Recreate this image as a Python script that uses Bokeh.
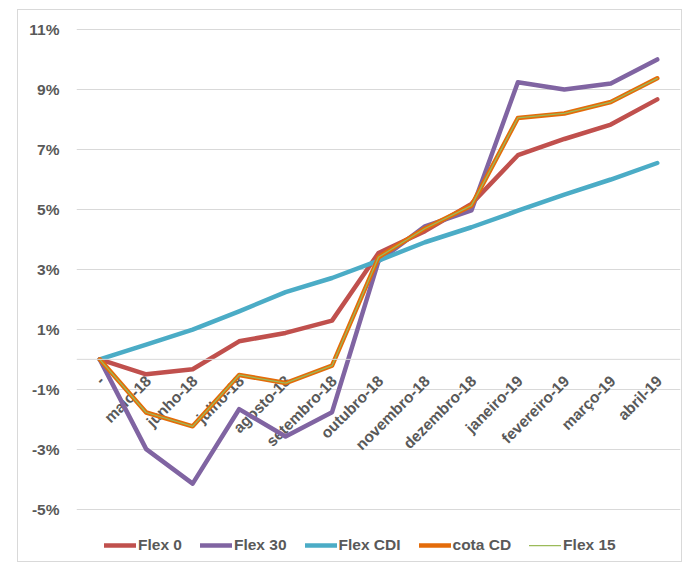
import numpy as np
from bokeh.plotting import figure
from bokeh.models import FixedTicker, PrintfTickFormatter, Span, Legend, LegendItem, Range1d
from bokeh.core.properties import value
from bokeh.embed import file_html
from bokeh.resources import INLINE

categories = ["-", "maio-18", "junho-18", "julho-18", "agosto-18", "setembro-18",
              "outubro-18", "novembro-18", "dezembro-18", "janeiro-19",
              "fevereiro-19", "março-19", "abril-19"]
flex_0 = [0, -0.50, -0.33, 0.60, 0.88, 1.29, 3.54, 4.27, 5.18, 6.80, 7.34, 7.82, 8.66]
flex_30 = [0, -2.99, -4.14, -1.66, -2.57, -1.76, 3.27, 4.43, 4.96, 9.23, 8.99, 9.19, 9.99]
flex_cdi = [0, 0.49, 0.99, 1.60, 2.24, 2.71, 3.29, 3.90, 4.40, 4.95, 5.49, 5.99, 6.54]
cota_cd = [0, -1.77, -2.23, -0.52, -0.79, -0.21, 3.40, 4.36, 5.12, 8.04, 8.19, 8.57, 9.36]
flex_15 = [0, -1.77, -2.23, -0.52, -0.79, -0.21, 3.40, 4.36, 5.12, 8.04, 8.19, 8.57, 9.36]
y_ticks = [-5, -3, -1, 1, 3, 5, 7, 9, 11]

FONT = "Liberation Sans"
GRAY = "#595959"
GRID = "#D9D9D9"

xs = list(range(len(categories)))

p = figure(width=665, height=553, output_backend="svg", toolbar_location=None,
           x_range=Range1d(-0.5, len(categories) - 0.5),
           y_range=Range1d(-6.8, 11.02),
           x_axis_location=None,
           min_border_left=58, min_border_top=18, min_border_right=3, min_border_bottom=0)
p.styles = {"margin-left": "17px", "margin-top": "9px", "border": "1px solid #D9D9D9"}
p.outline_line_color = None
p.background_fill_color = "white"
p.border_fill_color = "white"

p.xgrid.visible = False
p.yaxis.ticker = FixedTicker(ticks=y_ticks)
p.yaxis.formatter = PrintfTickFormatter(format="%d%%")
p.yaxis.axis_line_color = None
p.yaxis.major_tick_line_color = None
p.yaxis.minor_tick_line_color = None
p.yaxis.major_tick_out = 0
p.yaxis.major_tick_in = 0
p.yaxis.major_label_standoff = 17
p.yaxis.major_label_text_font = FONT
p.yaxis.major_label_text_font_style = "bold"
p.yaxis.major_label_text_font_size = "15.5px"
p.yaxis.major_label_text_color = GRAY
p.ygrid.grid_line_color = GRID
p.ygrid.grid_line_width = 1

p.add_layout(Span(location=0, dimension="width", line_color=GRID, line_width=1))

p.text(x=xs, y=[0] * len(xs), text=categories, angle=np.pi / 4,
       text_align="right", text_baseline="middle", x_offset=2, y_offset=19,
       text_font=value(FONT), text_font_style="bold", text_font_size="15.5px",
       text_color=GRAY)

lw = 4.5
r0 = p.line(xs, flex_0, line_color="#C0504D", line_width=lw, line_join="round", line_cap="round")
r30 = p.line(xs, flex_30, line_color="#8064A2", line_width=lw, line_join="round", line_cap="round")
rcdi = p.line(xs, flex_cdi, line_color="#4BACC6", line_width=lw, line_join="round", line_cap="round")
rcd = p.line(xs, cota_cd, line_color="#E46C0A", line_width=lw, line_join="round", line_cap="round")
r15 = p.line(xs, flex_15, line_color="#9BBB59", line_width=1.25, line_join="round", line_cap="round")

legend = Legend(items=[LegendItem(label="Flex 0", renderers=[r0]),
                       LegendItem(label="Flex 30", renderers=[r30]),
                       LegendItem(label="Flex CDI", renderers=[rcdi]),
                       LegendItem(label="cota CD", renderers=[rcd]),
                       LegendItem(label="Flex 15", renderers=[r15])],
                orientation="horizontal", location=(28, 8),
                glyph_width=32, glyph_height=20, label_standoff=2, spacing=18,
                padding=0, margin=0, border_line_color=None, background_fill_alpha=0,
                label_text_font=FONT, label_text_font_style="bold",
                label_text_font_size="15.5px", label_text_color=GRAY)
p.add_layout(legend)

open("out.html", "w").write(file_html(p, INLINE))
